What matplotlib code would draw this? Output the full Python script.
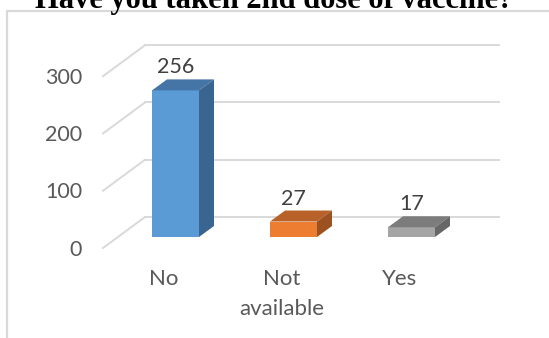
import matplotlib
matplotlib.use('Agg')
import matplotlib.pyplot as plt
from matplotlib.patches import Polygon, Rectangle

categories = ['No', 'Not\navailable', 'Yes']
values = [256, 27, 17]
ticks = [0, 100, 200, 300]
title = 'Have you taken 2nd dose of vaccine?'

front_cols = ['#5b9bd5', '#ed7d31', '#a5a5a5']
top_cols = ['#4574a6', '#b8622a', '#7c7c7c']
side_cols = ['#3a6590', '#9c5220', '#676767']
grid_col = '#d9d9d9'
txt_col = '#595959'

W, H = 549, 338
fig = plt.figure(figsize=(W / 100, H / 100), dpi=100)
ax = fig.add_axes([0, 0, 1, 1])
ax.axis('off')

# pixel layout of the fake 3d frame
x0, y0 = 175.5, 101.0      # first bar front centre / base (px from left / bottom)
cat_px, val_px = 118.0, 0.5727
ax.set_xlim(-x0 / cat_px, (W - x0) / cat_px)
ax.set_ylim(-y0 / val_px, (H - y0) / val_px)

def px_x(p):
    return p / cat_px

def px_y(p):
    return p / val_px

bw = px_x(47)
ddx, ddy = px_x(15), px_y(11)          # bar depth
fx, fy = px_x(-15), px_y(-11)          # floor front rel. to bar plane
bx, by = px_x(27), px_y(20)            # floor back rel. to bar plane
wall_l = (118 - x0) / cat_px
wall_r = (499 - x0) / cat_px

# gridlines: side wall + back wall
for t in ticks:
    ax.plot([wall_l + fx, wall_l + bx], [t + fy, t + by], color=grid_col, lw=1.4, zorder=1)
    ax.plot([wall_l + bx, wall_r], [t + by, t + by], color=grid_col, lw=1.4, zorder=1)
    ax.text(px_x(82 - x0), t + fy - px_y(1.5), str(t), ha='right', va='center',
            fontsize=15.5, family='Lato', color=txt_col)

# bars
for i, v in enumerate(values):
    l, r = i - bw / 2, i + bw / 2
    ax.add_patch(Rectangle((l, 0), bw, v, facecolor=front_cols[i], edgecolor='none', zorder=3))
    ax.add_patch(Polygon([(l, v), (r, v), (r + ddx, v + ddy), (l + ddx, v + ddy)],
                         facecolor=top_cols[i], edgecolor='none', zorder=3))
    ax.add_patch(Polygon([(r, 0), (r + ddx, ddy), (r + ddx, v + ddy), (r, v)],
                         facecolor=side_cols[i], edgecolor='none', zorder=3))
    ax.text(i, v + ddy + px_y(12), str(v), ha='center', va='center',
            fontsize=15.5, family='Lato', color='#404040')
    ax.text(i - 0.1, px_y(-32), categories[i], ha='center', va='top',
            fontsize=16, family='Lato', color=txt_col, linespacing=1.6)

# chart border (left and top visible)
bl = px_x(7 - x0)
bt = px_y(H - 11 - y0)
ax.plot([bl, bl, px_x(W + 10 - x0)], [px_y(-20 - y0), bt, bt], color=grid_col, lw=1.6,
        zorder=0, clip_on=False)

fig.text(274 / W, (H - 8) / H, title, ha='center', va='baseline', fontsize=22,
         fontweight='bold', family='Liberation Serif', color='black')

fig.savefig('out.png', dpi=100)
